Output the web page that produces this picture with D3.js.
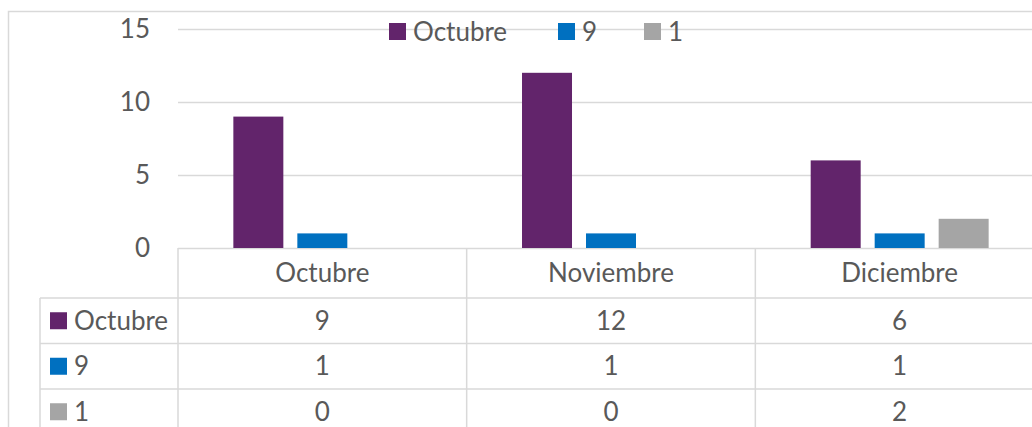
<!DOCTYPE html>
<html>
<head>
<meta charset="utf-8">
<script src="https://cdn.jsdelivr.net/npm/d3@7"></script>
<style>
  html, body { margin: 0; padding: 0; background: #fff; }
  svg text { font-family: Lato, "Open Sans", sans-serif; fill: #595959; }
</style>
</head>
<body>
<div id="chart"></div>
<script>
// datos
const categories = ['Octubre', 'Noviembre', 'Diciembre']
const seriesNames = ['Octubre', '9', '1']
const octubreValues = [9, 12, 6]
const nueveValues = [1, 1, 1]
const unoValues = [0, 0, 2]
const yTicks = [0, 5, 10, 15]

const seriesValues = [octubreValues, nueveValues, unoValues]
const colors = ['#62246B', '#0070C0', '#A5A5A5']

const width = 1032
const height = 427
const padding = { top: 29, left: 178, right: -12, bottom: 179 }
const fontSize = 26
const gridColor = '#D9D9D9'

const svg = d3.select('#chart')
  .append('svg')
  .attr('width', width)
  .attr('height', height)

// borde del gráfico
svg.append('rect')
  .attr('x', 8.5)
  .attr('y', 11.5)
  .attr('width', width + 20)
  .attr('height', height + 20)
  .attr('fill', 'none')
  .attr('stroke', gridColor)
  .attr('stroke-width', 1.5)

// escalas
const x0 = d3.scaleBand()
  .domain(categories)
  .range([padding.left, width - padding.right])
const x1 = d3.scaleBand()
  .domain(seriesNames)
  .range([0, x0.bandwidth()])
  .paddingInner(0.21875)
  .paddingOuter(0.865)
const yScale = d3.scaleLinear()
  .domain([0, 15])
  .range([height - padding.bottom, padding.top])

// eje y con lineas de cuadrícula
const yAxis = d3.axisLeft(yScale)
  .tickValues(yTicks)
  .tickSize(-(width - padding.right - padding.left))
  .tickPadding(28)
const gy = svg.append('g')
  .attr('transform', 'translate(' + padding.left + ',0)')
  .call(yAxis)
gy.select('.domain').remove()
gy.selectAll('.tick line').attr('stroke', gridColor).attr('stroke-width', 1.5)
gy.selectAll('.tick text')
  .attr('font-size', fontSize)
  .style('font-family', 'Lato, sans-serif')
  .attr('fill', '#595959')

// barras
categories.forEach((cat, ci) => {
  svg.append('g')
    .attr('transform', 'translate(' + x0(cat) + ',0)')
    .selectAll('rect')
    .data(seriesNames.map((s, si) => ({ s, si, v: seriesValues[si][ci] })))
    .enter()
    .append('rect')
    .attr('x', d => x1(d.s))
    .attr('y', d => yScale(d.v))
    .attr('width', x1.bandwidth())
    .attr('height', d => yScale(0) - yScale(d.v))
    .attr('fill', d => colors[d.si])
})

// tabla de datos
const tableTop = yScale(0)
const headerH = 50
const rowH = 45.5
const legendLeft = 40
const rowY = i => tableTop + headerH + i * rowH
const tableBottom = rowY(seriesNames.length)
const table = svg.append('g')
  .attr('stroke', gridColor)
  .attr('stroke-width', 1.5)

// lineas horizontales
table.selectAll('line.h')
  .data(d3.range(seriesNames.length + 1))
  .enter()
  .append('line')
  .attr('x1', legendLeft)
  .attr('x2', width + 20)
  .attr('y1', i => rowY(i))
  .attr('y2', i => rowY(i))
// lineas verticales
table.selectAll('line.v')
  .data(categories.concat(['end']))
  .enter()
  .append('line')
  .attr('x1', d => d === 'end' ? x0.range()[1] : x0(d))
  .attr('x2', d => d === 'end' ? x0.range()[1] : x0(d))
  .attr('y1', tableTop)
  .attr('y2', tableBottom)
table.append('line')
  .attr('x1', legendLeft)
  .attr('x2', legendLeft)
  .attr('y1', rowY(0))
  .attr('y2', tableBottom)

// encabezado de categorias
svg.append('g')
  .selectAll('text')
  .data(categories)
  .enter()
  .append('text')
  .attr('x', d => x0(d) + x0.bandwidth() / 2)
  .attr('y', tableTop + headerH / 2)
  .attr('dy', '0.35em')
  .attr('text-anchor', 'middle')
  .attr('font-size', fontSize)
  .text(d => d)

// filas de series
seriesNames.forEach((name, si) => {
  const cy = rowY(si) + rowH / 2
  svg.append('rect')
    .attr('x', 50)
    .attr('y', cy - 8.5)
    .attr('width', 17)
    .attr('height', 17)
    .attr('fill', colors[si])
  svg.append('text')
    .attr('x', 74)
    .attr('y', cy)
    .attr('dy', '0.35em')
    .attr('font-size', fontSize)
    .text(name)
  svg.append('g')
    .selectAll('text')
    .data(seriesValues[si])
    .enter()
    .append('text')
    .attr('x', (d, ci) => x0(categories[ci]) + x0.bandwidth() / 2)
    .attr('y', cy)
    .attr('dy', '0.35em')
    .attr('text-anchor', 'middle')
    .attr('font-size', fontSize)
    .text(d => d)
})

// leyenda
const legendX = [389, 558, 644]
const legend = svg.append('g')
seriesNames.forEach((name, si) => {
  legend.append('rect')
    .attr('x', legendX[si])
    .attr('y', 23)
    .attr('width', 17)
    .attr('height', 17)
    .attr('fill', colors[si])
  legend.append('text')
    .attr('x', legendX[si] + 24)
    .attr('y', 32)
    .attr('dy', '0.35em')
    .attr('font-size', fontSize)
    .text(name)
})
</script>
</body>
</html>
